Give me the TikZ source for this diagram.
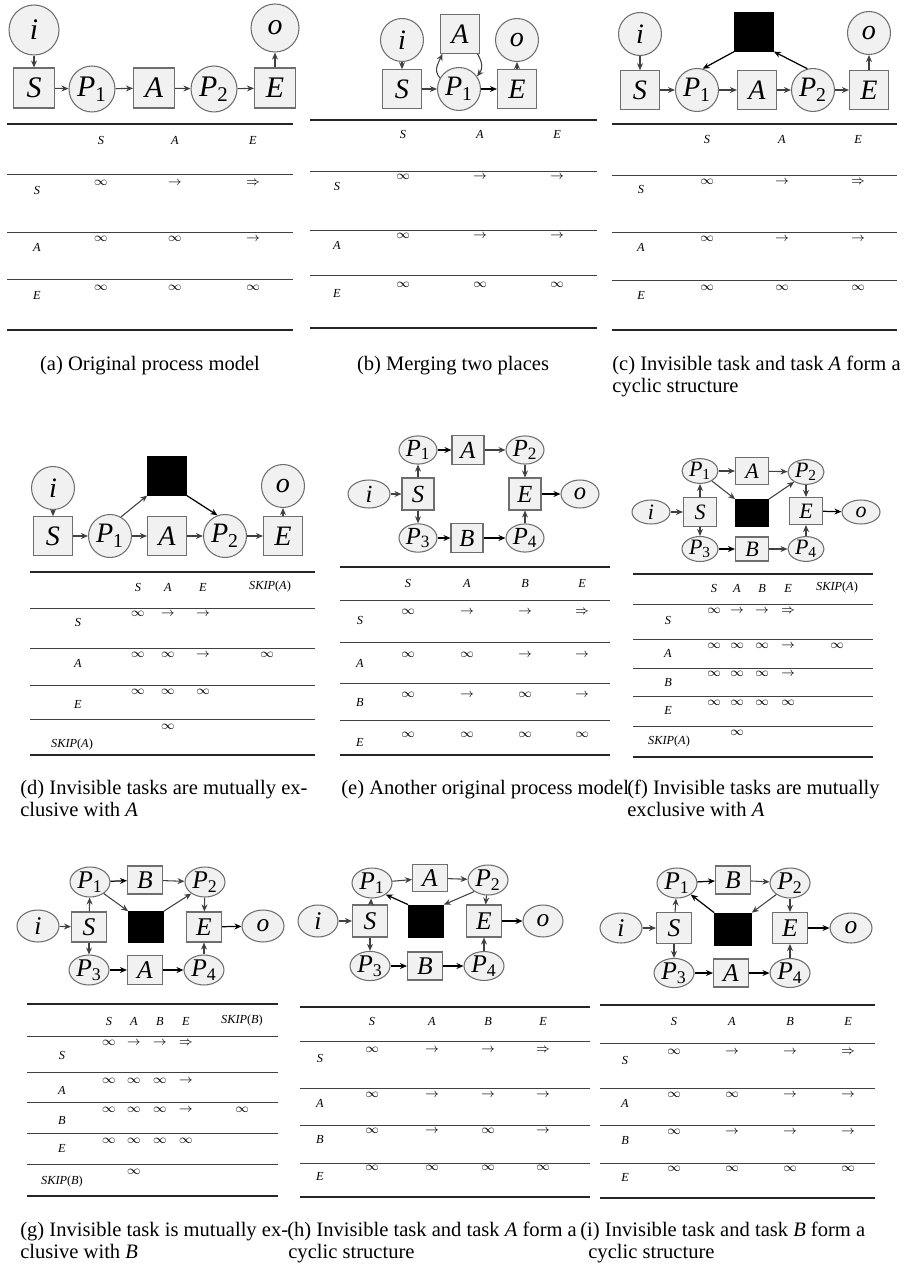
\documentclass[tikz,border=0pt]{standalone}
\usepackage{fontspec}
\setmainfont{Liberation Serif}
\usepackage{amsmath,amssymb}
\usepackage{tikz}
\usetikzlibrary{positioning,arrows.meta,shapes.geometric}
\usepackage{xcolor}
\definecolor{bd}{HTML}{6E6E6E}
\definecolor{bg}{HTML}{F1F1F1}
\definecolor{ar}{HTML}{404040}
\newcommand{\pp}[1]{\textit{P}\textsubscript{#1}}
\newcommand{\tinf}{$\infty$}
\newcommand{\tarr}{$\rightarrow$}
\newcommand{\tdarr}{$\Rightarrow$}

\tikzset{
  plc/.style={circle,draw=bd,fill=bg,line width=0.6pt,inner sep=0pt},
  elp/.style={ellipse,draw=bd,fill=bg,line width=0.6pt,inner sep=0pt},
  trn/.style={rectangle,draw=bd,fill=bg,line width=0.6pt,inner sep=0pt},
  inv/.style={rectangle,draw=black,fill=black,inner sep=0pt},
  pa/.style={plc,minimum size=0.92cm,font=\fontsize{17}{17}\selectfont},
  ta/.style={trn,minimum width=0.82cm,minimum height=0.8cm,font=\fontsize{17}{17}\selectfont},
  pb/.style={plc,minimum size=0.86cm,font=\fontsize{16}{16}\selectfont},
  tb/.style={trn,minimum width=0.78cm,minimum height=0.77cm,font=\fontsize{16}{16}\selectfont},
  kb/.style={inv,minimum width=0.78cm,minimum height=0.77cm},
  pe/.style={elp,minimum width=0.76cm,minimum height=0.56cm,font=\fontsize{14}{14}\selectfont},
  te/.style={trn,minimum width=0.64cm,minimum height=0.58cm,font=\fontsize{14}{14}\selectfont},
  pf/.style={elp,minimum width=0.72cm,minimum height=0.48cm,font=\fontsize{12.5}{12.5}\selectfont},
  tf/.style={trn,minimum width=0.66cm,minimum height=0.54cm,font=\fontsize{12.5}{12.5}\selectfont},
  kf/.style={inv,minimum width=0.66cm,minimum height=0.54cm},
  pg/.style={elp,minimum width=0.8cm,minimum height=0.6cm,font=\fontsize{14.5}{14.5}\selectfont},
  tg/.style={trn,minimum width=0.7cm,minimum height=0.6cm,font=\fontsize{14.5}{14.5}\selectfont},
  kg/.style={inv,minimum width=0.7cm,minimum height=0.62cm},
  flow/.style={->,draw=ar,line width=0.6pt},
  flowb/.style={->,draw=black,line width=0.7pt},
  cell/.style={inner sep=0pt,font=\fontsize{7}{8}\selectfont},
  rulethin/.style={draw=ar,line width=0.55pt},
  rulethick/.style={draw=black!85,line width=1.1pt},
  captxt/.style={inner sep=0pt,font=\fontsize{11.7}{12.5}\selectfont,anchor=base west}
}

\begin{document}
\begin{tikzpicture}[x=0.02cm,y=-0.02cm,>={Stealth[length=4pt,width=3.4pt]}]
\useasboundingbox (0,0) rectangle (911,1267);

% (a) original model
\node[pa,minimum size=1cm] (ai) at (34,30) {\textit{i}};
\node[ta] (aS) at (34,88) {\textit{S}};
\node[pa] (aP1) at (92,89) {\pp{1}};
\node[ta] (aA) at (154,88) {\textit{A}};
\node[pa] (aP2) at (214,89) {\pp{2}};
\node[ta] (aE) at (275,88) {\textit{E}};
\node[pa,minimum size=0.96cm] (ao) at (275,28) {\textit{o}};
\draw[flow] (ai) -- (aS);
\draw[flow] (aS) -- (aP1);
\draw[flow] (aP1) -- (aA);
\draw[flow] (aA) -- (aP2);
\draw[flow] (aP2) -- (aE);
\draw[flow] (aE) -- (ao);
\draw[rulethick] (7,124) -- (293,124);
\foreach \y in {174,232,279} \draw[rulethin] (7,\y) -- (293,\y);
\draw[rulethick] (7,330) -- (293,330);
\foreach \x/\t [count=\k] in {101/S,175/A,253/E} \node[cell] (aH\k) at (\x,140) {\textit{\t}};
\foreach \y/\t [count=\k] in {190/S,247/A,295/E} \node[cell] (aL\k) at (37,\y) {\textit{\t}};
\foreach \x/\t [count=\k] in {101/\tinf,175/\tarr,253/\tdarr} \node[cell] (aRS\k) at (\x,183) {\t};
\foreach \x/\t [count=\k] in {101/\tinf,175/\tinf,253/\tarr} \node[cell] (aRA\k) at (\x,239) {\t};
\foreach \x/\t [count=\k] in {101/\tinf,175/\tinf,253/\tinf} \node[cell] (aRE\k) at (\x,288) {\t};
\node[captxt,anchor=base] (capa) at (150,370) {(a) Original process model};

% (b) merging two places
\node[pb] (bi) at (402,40) {\textit{i}};
\node[tb] (bA) at (460,34) {\textit{A}};
\node[pb] (bo) at (517,40) {\textit{o}};
\node[tb] (bS) at (402,89) {\textit{S}};
\node[pb] (bP1) at (459,89) {\pp{1}};
\node[tb] (bE) at (517,89) {\textit{E}};
\draw[flow] (bi) -- (bS);
\draw[flow] (bS) -- (bP1);
\draw[flowb] (bP1) -- (bE);
\draw[flow] (bE) -- (bo);
\draw[flow] (bP1.150) .. controls +(-7,-8) and +(-4,9) .. ([xshift=0.05cm]bA.south west);
\draw[flow] ([xshift=-0.05cm]bA.south east) .. controls +(5,9) and +(6,-8) .. (bP1.35);
\draw[rulethick] (310,120) -- (597,120);
\foreach \y in {171,230,275} \draw[rulethin] (310,\y) -- (597,\y);
\draw[rulethick] (310,328) -- (597,328);
\foreach \x/\t [count=\k] in {403/S,480/A,557/E} \node[cell] (bH\k) at (\x,134) {\textit{\t}};
\foreach \y/\t [count=\k] in {186/S,245/A,293/E} \node[cell] (bL\k) at (337,\y) {\textit{\t}};
\foreach \x/\t [count=\k] in {403/\tinf,480/\tarr,557/\tarr} \node[cell] (bRS\k) at (\x,177) {\t};
\foreach \x/\t [count=\k] in {403/\tinf,480/\tarr,557/\tarr} \node[cell] (bRA\k) at (\x,236) {\t};
\foreach \x/\t [count=\k] in {403/\tinf,480/\tinf,557/\tinf} \node[cell] (bRE\k) at (\x,285) {\t};
\node[captxt,anchor=base] (capb) at (453,370) {(b) Merging two places};

% (c) invisible task and A form a cycle
\node[pb] (ci) at (640,34) {\textit{i}};
\node[kb] (cT) at (754,32) {};
\node[pb] (co) at (869,33) {\textit{o}};
\node[tb] (cS) at (640,90) {\textit{S}};
\node[pb] (cP1) at (697,90) {\pp{1}};
\node[tb] (cA) at (757,90) {\textit{A}};
\node[pb] (cP2) at (813,90) {\pp{2}};
\node[tb] (cE) at (869,90) {\textit{E}};
\draw[flow] (ci) -- (cS);
\draw[flow] (cS) -- (cP1);
\draw[flow] (cP1) -- (cA);
\draw[flow] (cA) -- (cP2);
\draw[flow] (cP2) -- (cE);
\draw[flow] (cE) -- (co);
\draw[flowb] (cT.south west) -- (cP1.75);
\draw[flowb] (cP2.105) -- (cT.south east);
\draw[rulethick] (612,124) -- (897,124);
\foreach \y in {175,232,280} \draw[rulethin] (612,\y) -- (897,\y);
\draw[rulethick] (612,330) -- (897,330);
\foreach \x/\t [count=\k] in {707/S,782/A,858/E} \node[cell] (cH\k) at (\x,139) {\textit{\t}};
\foreach \y/\t [count=\k] in {189/S,247/A,295/E} \node[cell] (cL\k) at (641,\y) {\textit{\t}};
\foreach \x/\t [count=\k] in {707/\tinf,782/\tarr,858/\tdarr} \node[cell] (cRS\k) at (\x,182) {\t};
\foreach \x/\t [count=\k] in {707/\tinf,782/\tarr,858/\tarr} \node[cell] (cRA\k) at (\x,239) {\t};
\foreach \x/\t [count=\k] in {707/\tinf,782/\tinf,858/\tinf} \node[cell] (cRE\k) at (\x,288) {\t};
\node[captxt] (capc1) at (612,370) {(c) Invisible task and task \textit{A} form a};
\node[captxt] (capc2) at (612,392) {cyclic structure};

% (d) invisible task exclusive with A
\node[pb] (di) at (53,488) {\textit{i}};
\node[kb] (dT) at (167,476) {};
\node[pb] (do) at (283,486) {\textit{o}};
\node[tb] (dS) at (53,536) {\textit{S}};
\node[pb] (dP1) at (110,536) {\pp{1}};
\node[tb] (dA) at (167,536) {\textit{A}};
\node[pb] (dP2) at (225,536) {\pp{2}};
\node[tb] (dE) at (283,536) {\textit{E}};
\draw[flow] (di) -- (dS);
\draw[flow] (dS) -- (dP1);
\draw[flow] (dP1) -- (dA);
\draw[flow] (dA) -- (dP2);
\draw[flow] (dP2) -- (dE);
\draw[flow] (dE) -- (do);
\draw[flow] (dP1.60) -- (dT.south west);
\draw[flowb] (dT.south east) -- (dP2.110);
\draw[rulethick] (30,572) -- (315,572);
\foreach \y in {608,648,685,719} \draw[rulethin] (30,\y) -- (315,\y);
\draw[rulethick] (30,755) -- (315,755);
\foreach \x/\t [count=\k] in {138/S,168/A,203/E} \node[cell] (dH\k) at (\x,587) {\textit{\t}};
\node[cell] (dH4) at (270,587) {\textit{SKIP}(\textit{A})};
\foreach \y/\t [count=\k] in {622/S,663/A,704/E} \node[cell] (dL\k) at (78,\y) {\textit{\t}};
\node[cell] (dL4) at (72,745) {\textit{SKIP}(\textit{A})};
\foreach \x/\t [count=\k] in {138/\tinf,168/\tarr,203/\tarr} \node[cell] (dRS\k) at (\x,614) {\t};
\foreach \x/\t [count=\k] in {138/\tinf,168/\tinf,203/\tarr,267/\tinf} \node[cell] (dRA\k) at (\x,655) {\t};
\foreach \x/\t [count=\k] in {138/\tinf,168/\tinf,203/\tinf} \node[cell] (dRE\k) at (\x,692) {\t};
\node[cell] (dRK1) at (168,727) {\tinf};
\node[captxt] (capd1) at (20,794) {(d) Invisible tasks are mutually ex-};
\node[captxt] (capd2) at (20,816) {clusive with \textit{A}};

% (e) another original model
\node[pe] (eP1) at (418,450) {\pp{1}};
\node[te] (eA) at (468,450) {\textit{A}};
\node[pe] (eP2) at (525,450) {\pp{2}};
\node[pe,minimum width=0.84cm] (ei) at (369,494) {\textit{i}};
\node[te,minimum height=0.64cm] (eS) at (418,494) {\textit{S}};
\node[te,minimum height=0.64cm] (eE) at (525,494) {\textit{E}};
\node[pe] (eo) at (580,494) {\textit{o}};
\node[pe] (eP3) at (418,538) {\pp{3}};
\node[te] (eB) at (467,538) {\textit{B}};
\node[pe] (eP4) at (525,538) {\pp{4}};
\draw[flow] (ei) -- (eS);
\draw[flow] (eS) -- (eP1);
\draw[flow] (eS) -- (eP3);
\draw[flowb] (eP1) -- (eA);
\draw[flow] (eA) -- (eP2);
\draw[flow] (eP2) -- (eE);
\draw[flowb] (eP3) -- (eB);
\draw[flowb] (eB) -- (eP4);
\draw[flow] (eP4) -- (eE);
\draw[flowb] (eE) -- (eo);
\draw[rulethick] (340,567) -- (610,567);
\foreach \y in {600,642,683,720} \draw[rulethin] (340,\y) -- (610,\y);
\draw[rulethick] (340,755) -- (610,755);
\foreach \x/\t [count=\k] in {408/S,467/A,525/B,582/E} \node[cell] (eH\k) at (\x,583) {\textit{\t}};
\foreach \y/\t [count=\k] in {620/S,663/A,702/B,742/E} \node[cell] (eL\k) at (360,\y) {\textit{\t}};
\foreach \x/\t [count=\k] in {408/\tinf,467/\tarr,525/\tarr,582/\tdarr} \node[cell] (eRS\k) at (\x,612) {\t};
\foreach \x/\t [count=\k] in {408/\tinf,467/\tinf,525/\tarr,582/\tarr} \node[cell] (eRA\k) at (\x,655) {\t};
\foreach \x/\t [count=\k] in {408/\tinf,467/\tarr,525/\tinf,582/\tarr} \node[cell] (eRB\k) at (\x,695) {\t};
\foreach \x/\t [count=\k] in {408/\tinf,467/\tinf,525/\tinf,582/\tinf} \node[cell] (eRE\k) at (\x,735) {\t};
\node[captxt] (cape) at (341,794) {(e) Another original process model};

% (f) invisible tasks exclusive with A
\node[pf] (fP1) at (700,471) {\pp{1}};
\node[tf] (fA) at (752,471) {\textit{A}};
\node[pf] (fP2) at (806,472) {\pp{2}};
\node[pf,minimum width=0.76cm] (fi) at (651,512) {\textit{i}};
\node[tf,minimum height=0.58cm] (fS) at (700,512) {\textit{S}};
\node[kf] (fT) at (752,513) {};
\node[tf] (fE) at (806,511) {\textit{E}};
\node[pf,minimum width=0.76cm] (fo) at (861,512) {\textit{o}};
\node[pf] (fP3) at (700,549) {\pp{3}};
\node[tf,minimum height=0.48cm] (fB) at (752,549) {\textit{B}};
\node[pf] (fP4) at (806,549) {\pp{4}};
\draw[flow] (fi) -- (fS);
\draw[flow] (fS) -- (fP1);
\draw[flow] (fS) -- (fP3);
\draw[flow] (fP1) -- (fA);
\draw[flow] (fA) -- (fP2);
\draw[flow] (fP2) -- (fE);
\draw[flowb] (fP3) -- (fB);
\draw[flow] (fB) -- (fP4);
\draw[flow] (fP4) -- (fE);
\draw[flowb] (fE) -- (fo);
\draw[flow] (fP1.-40) -- (fT.north west);
\draw[flow] (fT.north east) -- (fP2.-140);
\draw[rulethick] (633,574) -- (873,574);
\foreach \y in {604,639,668,696,726} \draw[rulethin] (633,\y) -- (873,\y);
\draw[rulethick] (633,757) -- (873,757);
\foreach \x/\t [count=\k] in {714/S,737/A,762/B,788/E} \node[cell] (fH\k) at (\x,588) {\textit{\t}};
\node[cell] (fH5) at (837,588) {\textit{SKIP}(\textit{A})};
\foreach \y/\t [count=\k] in {620/S,653/A,682/B,710/E} \node[cell] (fL\k) at (668,\y) {\textit{\t}};
\node[cell] (fL5) at (669,742) {\textit{SKIP}(\textit{A})};
\foreach \x/\t [count=\k] in {714/\tinf,737/\tarr,762/\tarr,788/\tdarr} \node[cell] (fRS\k) at (\x,611) {\t};
\foreach \x/\t [count=\k] in {714/\tinf,737/\tinf,762/\tinf,788/\tarr,837/\tinf} \node[cell] (fRA\k) at (\x,646) {\t};
\foreach \x/\t [count=\k] in {714/\tinf,737/\tinf,762/\tinf,788/\tarr} \node[cell] (fRB\k) at (\x,674) {\t};
\foreach \x/\t [count=\k] in {714/\tinf,737/\tinf,762/\tinf,788/\tinf} \node[cell] (fRE\k) at (\x,703) {\t};
\node[cell] (fRK1) at (737,733) {\tinf};
\node[captxt] (capf1) at (627,794) {(f) Invisible tasks are mutually};
\node[captxt] (capf2) at (627,816) {exclusive with \textit{A}};

% (g) invisible task exclusive with B
\node[pg] (gP1) at (90,882) {\pp{1}};
\node[tg,minimum height=0.56cm] (gB) at (145,880) {\textit{B}};
\node[pg] (gP2) at (205,882) {\pp{2}};
\node[pg,minimum width=0.84cm,minimum height=0.64cm] (gi) at (38,926) {\textit{i}};
\node[tg] (gS) at (89,927) {\textit{S}};
\node[kg] (gT) at (146,927) {};
\node[tg] (gE) at (204,927) {\textit{E}};
\node[pg,minimum width=0.84cm,minimum height=0.64cm] (go) at (263,926) {\textit{o}};
\node[pg] (gP3) at (89,970) {\pp{3}};
\node[tg,minimum height=0.58cm] (gA) at (145,970) {\textit{A}};
\node[pg] (gP4) at (204,970) {\pp{4}};
\draw[flow] (gi) -- (gS);
\draw[flow] (gS) -- (gP1);
\draw[flow] (gS) -- (gP3);
\draw[flowb] (gP1) -- (gB);
\draw[flow] (gB) -- (gP2);
\draw[flow] (gP2) -- (gE);
\draw[flowb] (gP3) -- (gA);
\draw[flowb] (gA) -- (gP4);
\draw[flow] (gP4) -- (gE);
\draw[flowb] (gE) -- (go);
\draw[flow] (gP1.-40) -- (gT.north west);
\draw[flow] (gT.north east) -- (gP2.-140);
\draw[rulethick] (27,1004) -- (278,1004);
\foreach \y in {1036,1072,1102,1133,1164} \draw[rulethin] (27,\y) -- (278,\y);
\draw[rulethick] (27,1196) -- (278,1196);
\foreach \x/\t [count=\k] in {109/S,134/A,160/B,186/E} \node[cell] (gH\k) at (\x,1021) {\textit{\t}};
\node[cell] (gH5) at (242,1021) {\textit{SKIP}(\textit{B})};
\foreach \y/\t [count=\k] in {1055/S,1090/A,1120/B,1148/E} \node[cell] (gL\k) at (62,\y) {\textit{\t}};
\node[cell] (gL5) at (62,1182) {\textit{SKIP}(\textit{B})};
\foreach \x/\t [count=\k] in {109/\tinf,134/\tarr,160/\tarr,186/\tdarr} \node[cell] (gRS\k) at (\x,1043) {\t};
\foreach \x/\t [count=\k] in {109/\tinf,134/\tinf,160/\tinf,186/\tarr} \node[cell] (gRA\k) at (\x,1081) {\t};
\foreach \x/\t [count=\k] in {109/\tinf,134/\tinf,160/\tinf,186/\tarr,242/\tinf} \node[cell] (gRB\k) at (\x,1110) {\t};
\foreach \x/\t [count=\k] in {109/\tinf,134/\tinf,160/\tinf,186/\tinf} \node[cell] (gRE\k) at (\x,1141) {\t};
\node[cell] (gRK1) at (134,1172) {\tinf};
\node[captxt] (capg1) at (20,1236) {(g) Invisible task is mutually ex-};
\node[captxt] (capg2) at (20,1258) {clusive with \textit{B}};

% (h) invisible task and A form a cycle
\node[pg] (hP1) at (372,883) {\pp{1}};
\node[tg,minimum height=0.54cm] (hA) at (430,878) {\textit{A}};
\node[pg] (hP2) at (488,880) {\pp{2}};
\node[pg,minimum height=0.64cm] (hi) at (318,921) {\textit{i}};
\node[tg,minimum height=0.64cm] (hS) at (370,921) {\textit{S}};
\node[kg,minimum height=0.64cm] (hT) at (426,921) {};
\node[tg,minimum height=0.64cm] (hE) at (484,921) {\textit{E}};
\node[pg,minimum height=0.64cm] (ho) at (543,921) {\textit{o}};
\node[pg,minimum height=0.56cm] (hP3) at (370,966) {\pp{3}};
\node[tg,minimum height=0.56cm] (hB) at (425,966) {\textit{B}};
\node[pg,minimum height=0.56cm] (hP4) at (484,966) {\pp{4}};
\draw[flow] (hi) -- (hS);
\draw[flow] (hS) -- (hP1);
\draw[flow] (hS) -- (hP3);
\draw[flow] (hP1) -- (hA);
\draw[flow] (hA) -- (hP2);
\draw[flow] (hP2) -- (hE);
\draw[flowb] (hP3) -- (hB);
\draw[flowb] (hB) -- (hP4);
\draw[flow] (hP4) -- (hE);
\draw[flowb] (hE) -- (ho);
\draw[flowb] (hT.north west) -- (hP1.-40);
\draw[flow] (hP2.-140) -- (hT.north east);
\draw[rulethick] (300,1007) -- (590,1007);
\foreach \y in {1041,1088,1125,1163} \draw[rulethin] (300,\y) -- (590,\y);
\draw[rulethick] (300,1197) -- (590,1197);
\foreach \x/\t [count=\k] in {372/S,432/A,488/B,543/E} \node[cell] (hH\k) at (\x,1021) {\textit{\t}};
\foreach \y/\t [count=\k] in {1058/S,1103/A,1139/B,1176/E} \node[cell] (hL\k) at (320,\y) {\textit{\t}};
\foreach \x/\t [count=\k] in {372/\tinf,432/\tarr,488/\tarr,543/\tdarr} \node[cell] (hRS\k) at (\x,1050) {\t};
\foreach \x/\t [count=\k] in {372/\tinf,432/\tarr,488/\tarr,543/\tarr} \node[cell] (hRA\k) at (\x,1095) {\t};
\foreach \x/\t [count=\k] in {372/\tinf,432/\tarr,488/\tinf,543/\tarr} \node[cell] (hRB\k) at (\x,1131) {\t};
\foreach \x/\t [count=\k] in {372/\tinf,432/\tinf,488/\tinf,543/\tinf} \node[cell] (hRE\k) at (\x,1168) {\t};
\node[captxt] (caph1) at (287,1236) {(h) Invisible task and task \textit{A} form a};
\node[captxt] (caph2) at (288,1258) {cyclic structure};

% (i) invisible task and B form a cycle
\node[pg] (iP1) at (677,883) {\pp{1}};
\node[tg,minimum height=0.56cm] (iB) at (733,880) {\textit{B}};
\node[pg] (iP2) at (790,883) {\pp{2}};
\node[pg,minimum width=0.84cm] (ii) at (621,928) {\textit{i}};
\node[tg,minimum height=0.62cm] (iS) at (674,928) {\textit{S}};
\node[kg,minimum width=0.74cm,minimum height=0.64cm] (iT) at (733,929) {};
\node[tg,minimum height=0.62cm] (iE) at (790,928) {\textit{E}};
\node[pg,minimum width=0.84cm] (io) at (851,928) {\textit{o}};
\node[pg,minimum height=0.56cm] (iP3) at (674,973) {\pp{3}};
\node[tg,minimum height=0.56cm] (iA) at (731,973) {\textit{A}};
\node[pg,minimum height=0.56cm] (iP4) at (790,973) {\pp{4}};
\draw[flow] (ii) -- (iS);
\draw[flow] (iS) -- (iP1);
\draw[flow] (iS) -- (iP3);
\draw[flowb] (iP1) -- (iB);
\draw[flow] (iB) -- (iP2);
\draw[flow] (iP2) -- (iE);
\draw[flowb] (iP3) -- (iA);
\draw[flowb] (iA) -- (iP4);
\draw[flow] (iP4) -- (iE);
\draw[flowb] (iE) -- (io);
\draw[flowb] (iT.north west) -- (iP1.-40);
\draw[flow] (iP2.-140) -- (iT.north east);
\draw[rulethick] (600,1005) -- (875,1005);
\foreach \y in {1043,1088,1125,1163} \draw[rulethin] (600,\y) -- (875,\y);
\draw[rulethick] (600,1198) -- (875,1198);
\foreach \x/\t [count=\k] in {674/S,732/A,790/B,848/E} \node[cell] (iH\k) at (\x,1021) {\textit{\t}};
\foreach \y/\t [count=\k] in {1060/S,1103/A,1140/B,1177/E} \node[cell] (iL\k) at (625,\y) {\textit{\t}};
\foreach \x/\t [count=\k] in {674/\tinf,732/\tarr,790/\tarr,848/\tdarr} \node[cell] (iRS\k) at (\x,1052) {\t};
\foreach \x/\t [count=\k] in {674/\tinf,732/\tinf,790/\tarr,848/\tarr} \node[cell] (iRA\k) at (\x,1095) {\t};
\foreach \x/\t [count=\k] in {674/\tinf,732/\tarr,790/\tarr,848/\tarr} \node[cell] (iRB\k) at (\x,1132) {\t};
\foreach \x/\t [count=\k] in {674/\tinf,732/\tinf,790/\tinf,848/\tinf} \node[cell] (iRE\k) at (\x,1169) {\t};
\node[captxt] (capi1) at (580,1236) {(i) Invisible task and task \textit{B} form a};
\node[captxt] (capi2) at (588,1258) {cyclic structure};
\end{tikzpicture}
\end{document}
